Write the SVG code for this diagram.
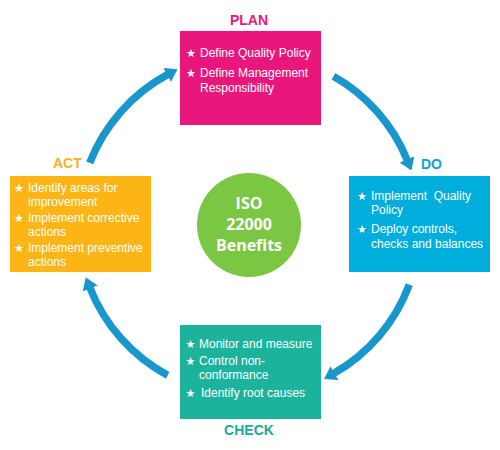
<svg xmlns="http://www.w3.org/2000/svg" width="500" height="450" viewBox="0 0 500 450">
<style>
.lbl{font-family:"Liberation Sans",Arial,sans-serif;font-size:14px;font-weight:bold}
.item{font-family:"Liberation Sans",Arial,sans-serif;font-size:12px;fill:#fff}
.star{font-family:"DejaVu Sans",sans-serif;font-size:11px;fill:#fff;text-anchor:middle}
.ctr{font-family:"Open Sans","Liberation Sans",sans-serif;font-size:16px;font-weight:bold;fill:#fff;text-anchor:middle}
.arr{fill:none;stroke:#1996CC;stroke-width:7.5;marker-end:url(#head)}
</style>
<defs>
<marker id="head" markerUnits="userSpaceOnUse" markerWidth="12" markerHeight="16" refX="1" refY="8" orient="auto">
<path d="M0,0 L12,8 L0,16 z" fill="#1996CC"/>
</marker>
</defs>
<rect width="500" height="450" fill="#fff"/>
<g id="connectors">
<path class="arr" d="M89.7,162.9 A171,171 0 0 1 167.9,74.4"/>
<path class="arr" d="M333.5,76.3 A171,171 0 0 1 407.3,160.3"/>
<path class="arr" d="M409.3,284.6 A171,171 0 0 1 333.6,373.6"/>
<path class="arr" d="M167.7,375.4 A171,171 0 0 1 89.8,287.5"/>
</g>
<g id="plan">
<text class="lbl" x="249" y="25" fill="#E6197B" text-anchor="middle">PLAN</text>
<rect x="180" y="31" width="141" height="94" fill="#E9177C"/>
<text class="star" x="191" y="57">★</text>
<text class="item" x="200" y="57">Define Quality Policy</text>
<text class="star" x="191" y="77">★</text>
<text class="item" x="200" y="77">Define Management</text>
<text class="item" x="200" y="92">Responsibility</text>
</g>
<g id="do">
<text class="lbl" x="421" y="169" fill="#0BA5DB">DO</text>
<rect x="349" y="176" width="141" height="96" fill="#00AEDE"/>
<text class="star" x="362" y="200">★</text>
<text class="item" x="371" y="200" xml:space="preserve">Implement  Quality</text>
<text class="item" x="371" y="214">Policy</text>
<text class="star" x="362" y="233">★</text>
<text class="item" x="371" y="233">Deploy controls,</text>
<text class="item" x="371" y="248">checks and balances</text>
</g>
<g id="act">
<text class="lbl" x="53" y="168" fill="#F9B020">ACT</text>
<rect x="10" y="176" width="141" height="96" fill="#FDB515"/>
<text class="star" x="19" y="192">★</text>
<text class="item" x="28" y="192">Identify areas for</text>
<text class="item" x="28" y="206">improvement</text>
<text class="star" x="19" y="222">★</text>
<text class="item" x="28" y="222">Implement corrective</text>
<text class="item" x="28" y="236">actions</text>
<text class="star" x="19" y="252">★</text>
<text class="item" x="28" y="252">Implement preventive</text>
<text class="item" x="28" y="266">actions</text>
</g>
<g id="check">
<rect x="180" y="325" width="141" height="94" fill="#1BB39B"/>
<text class="star" x="190.5" y="348">★</text>
<text class="item" x="199" y="348">Monitor and measure</text>
<text class="star" x="190.5" y="365">★</text>
<text class="item" x="199" y="365">Control non-</text>
<text class="item" x="199" y="379">conformance</text>
<text class="star" x="190.5" y="397">★</text>
<text class="item" x="201" y="397">Identify root causes</text>
<text class="lbl" x="249" y="435" fill="#1AAA95" text-anchor="middle">CHECK</text>
</g>
<g id="center">
<circle cx="249" cy="225" r="52" fill="#7BC642"/>
<text class="ctr" x="249" y="209">ISO</text>
<text class="ctr" x="249" y="230">22000</text>
<text class="ctr" x="249" y="251">Benefits</text>
</g>
</svg>
